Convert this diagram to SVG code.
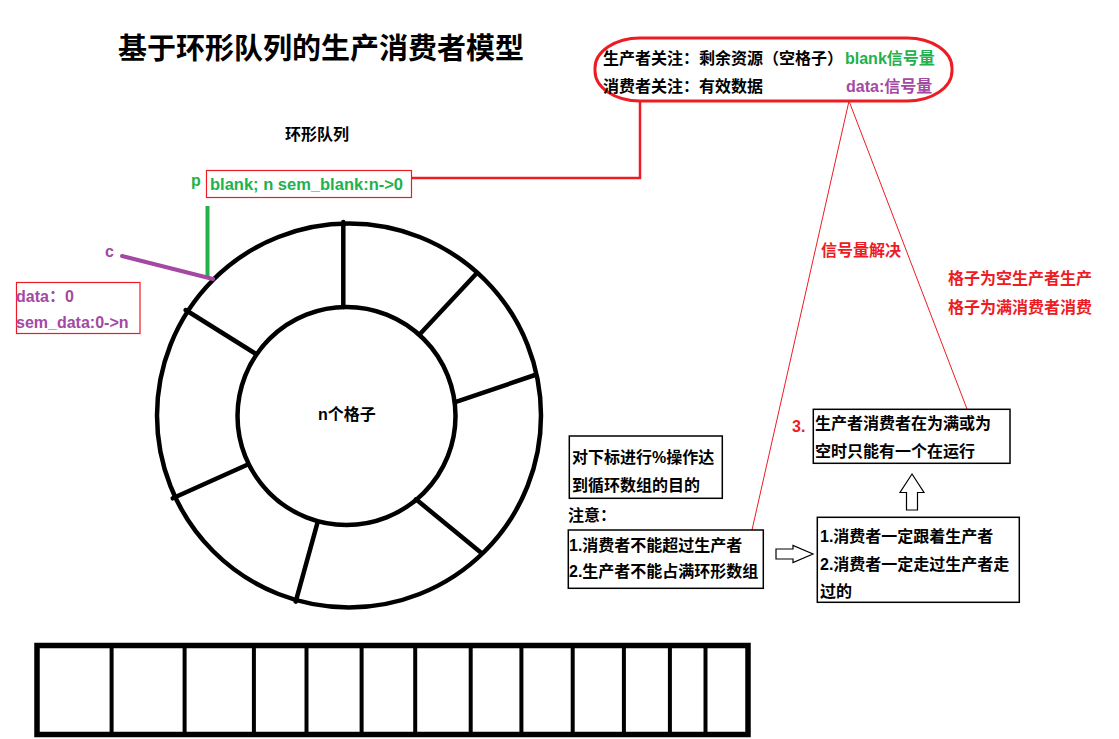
<svg xmlns="http://www.w3.org/2000/svg" width="1119" height="739" viewBox="0 0 1119 739">
<style>
text{font-family:"Liberation Sans","Noto Sans CJK SC",sans-serif;font-weight:bold;font-size:16px;fill:#000}
.g{fill:#22b14c}.p{fill:#a349a4}.r{fill:#ed1c24}
.box{fill:#fff;stroke:#000;stroke-width:1.5}
.rbox{fill:none;stroke:#ed1c24;stroke-width:1.2}
.thick{fill:none;stroke:#000;stroke-width:5}
.spoke{stroke:#000;stroke-width:4.5;stroke-linecap:round}
.rl{fill:none;stroke:#ed1c24;stroke-width:1}
.arr{fill:#fff;stroke:#000;stroke-width:1.2}
</style>
<rect width="1119" height="739" fill="#fff"/>
<text x="118" y="59" style="font-size:29px">基于环形队列的生产消费者模型</text>
<text x="285" y="140">环形队列</text>

<g id="connectors">
<polyline class="rl" points="412,178 640,178 640,101" style="stroke-width:2.5"/>
<line class="rl" x1="849" y1="101" x2="752" y2="530"/>
<line class="rl" x1="849" y1="101" x2="967" y2="409"/>
<polygon class="arr" points="776,549 793,549 793,545.5 813,554 793,562.5 793,559 776,559"/>
<polygon class="arr" points="912,474 924,492.5 917.5,492.5 917.5,510 906.5,510 906.5,492.5 900,492.5"/>
</g>

<g id="focus-note">
<rect x="595" y="38" width="357" height="63" rx="45" ry="30" fill="none" stroke="#ed1c24" stroke-width="3"/>
<text x="603" y="64">生产者关注：剩余资源（空格子）<tspan class="g" x="845">blank信号量</tspan></text>
<text x="603" y="92">消费者关注：有效数据<tspan class="p" x="846">data:信号量</tspan></text>
</g>

<g id="ring">
<circle class="thick" cx="349" cy="415.5" r="192" style="stroke-width:4.5"/>
<circle class="thick" cx="346.5" cy="416" r="109" style="stroke-width:4.5"/>
<line class="spoke" x1="343.3" y1="222" x2="343.3" y2="307"/>
<line class="spoke" x1="476" y1="274" x2="420" y2="334"/>
<line class="spoke" x1="535" y1="375" x2="456.7" y2="401.7"/>
<line class="spoke" x1="481.7" y1="553.3" x2="416" y2="499.3"/>
<line class="spoke" x1="317.3" y1="523.3" x2="295.7" y2="601.7"/>
<line class="spoke" x1="246.7" y1="465" x2="172.7" y2="498.3"/>
<line class="spoke" x1="256" y1="354" x2="185.7" y2="310"/>
<text x="318" y="420">n个格子</text>
</g>

<g id="pointer-p">
<line x1="207.5" y1="206" x2="207.5" y2="278" stroke="#22b14c" stroke-width="4"/>
<text class="g" x="191" y="186">p</text>
<rect class="rbox" x="206.5" y="170.5" width="205" height="27"/>
<text class="g" x="210" y="190" style="font-size:16.5px">blank; n sem_blank:n-&gt;0</text>
</g>

<g id="pointer-c">
<line x1="122" y1="256" x2="213" y2="279" stroke="#a349a4" stroke-width="4" stroke-linecap="round"/>
<text class="p" x="105" y="257">c</text>
<rect class="rbox" x="16.5" y="282.5" width="123.5" height="51"/>
<text class="p" x="16" y="302">data：0</text>
<text class="p" x="16" y="328">sem_data:0-&gt;n</text>
</g>

<g id="modulo-note">
<rect class="box" x="569.3" y="436" width="153" height="62.3"/>
<text x="572" y="463">对下标进行%操作达</text>
<text x="572" y="491">到循环数组的目的</text>
</g>

<text x="568" y="521">注意：</text>

<g id="rules-box">
<rect class="box" x="568.3" y="530" width="195" height="58.3"/>
<text x="569" y="551">1.消费者不能超过生产者</text>
<text x="569" y="577">2.生产者不能占满环形数组</text>
</g>

<g id="follow-box">
<rect class="box" x="817.3" y="517.3" width="202" height="85"/>
<text x="820" y="542">1.消费者一定跟着生产者</text>
<text x="820" y="570">2.消费者一定走过生产者走</text>
<text x="820" y="597">过的</text>
</g>

<g id="exclusive-box">
<rect class="box" x="813.3" y="409.3" width="196.7" height="54"/>
<text class="r" x="792" y="432">3.</text>
<text x="815" y="429">生产者消费者在为满或为</text>
<text x="815" y="457">空时只能有一个在运行</text>
</g>

<g id="semaphore-note">
<text class="r" x="821" y="256">信号量解决</text>
<text class="r" x="948" y="284">格子为空生产者生产</text>
<text class="r" x="948" y="313">格子为满消费者消费</text>
</g>

<g id="array">
<rect x="37" y="645.5" width="711" height="89" fill="none" stroke="#000" stroke-width="5.5"/>
<g stroke="#000" stroke-width="4">
<line x1="111.6" y1="645" x2="111.6" y2="735"/>
<line x1="184.6" y1="645" x2="184.6" y2="735"/>
<line x1="253.9" y1="645" x2="253.9" y2="735"/>
<line x1="306.5" y1="645" x2="306.5" y2="735"/>
<line x1="361.6" y1="645" x2="361.6" y2="735"/>
<line x1="415.2" y1="645" x2="415.2" y2="735"/>
<line x1="470.7" y1="645" x2="470.7" y2="735"/>
<line x1="521.4" y1="645" x2="521.4" y2="735"/>
<line x1="572.7" y1="645" x2="572.7" y2="735"/>
<line x1="623.9" y1="645" x2="623.9" y2="735"/>
<line x1="669.9" y1="645" x2="669.9" y2="735"/>
<line x1="705.5" y1="645" x2="705.5" y2="735"/>
</g>
</g>
</svg>
